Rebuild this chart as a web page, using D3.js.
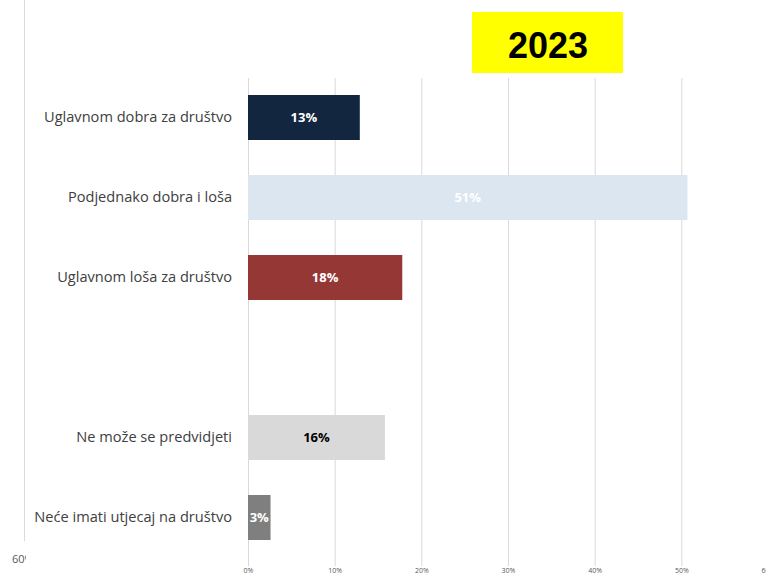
<!DOCTYPE html>
<html>
<head>
<meta charset="utf-8">
<script src="https://cdn.jsdelivr.net/npm/d3@7"></script>
<style>
  body { margin: 0; background: #fff; }
  svg { display: block; }
  .grid line { stroke: #d9d9d9; }
  .grid .domain { display: none; }
  .grid text { fill: #595959; font-family: 'Open Sans', sans-serif; font-size: 7px; }
  .cats .domain { display: none; }
  .cats text { fill: #404040; font-family: 'Open Sans', sans-serif; font-size: 14.6px; }
</style>
</head>
<body>
<div id="chart"></div>
<script>
// answers, top to bottom ('' is the empty gap row)
const categories = ['Uglavnom dobra za društvo', 'Podjednako dobra i loša', 'Uglavnom loša za društvo', '', 'Ne može se predvidjeti', 'Neće imati utjecaj na društvo']
const values = [0.129, 0.507, 0.178, null, 0.158, 0.026]
const labels = ['13%', '51%', '18%', '', '16%', '3%']
const barColors = ['#12263f', '#dce6f1', '#953735', 'none', '#d9d9d9', '#7f7f7f']
const labelColors = ['#ffffff', '#ffffff', '#ffffff', 'none', '#000000', '#ffffff']
const ticks = [0, 0.1, 0.2, 0.3, 0.4, 0.5, 0.6]
const title = '2023'

const W = 766
const H = 574

const svg = d3.select('#chart').append('svg')
  .attr('width', W)
  .attr('height', H)

const x = d3.scaleLinear()
  .domain([0, 0.6])
  .range([248, 768])

const y = d3.scaleBand()
  .domain(categories.map((d, i) => i))
  .range([77.5, 557.5])
  .paddingInner(0.4375)
  .paddingOuter(0.21875)

// leftover axis line from a neighbouring chart
svg.append('line')
  .attr('x1', 24.5).attr('x2', 24.5)
  .attr('y1', 0).attr('y2', 541)
  .attr('stroke', '#d9d9d9')

svg.append('clipPath').attr('id', 'cut')
  .append('rect').attr('x', 0).attr('y', 540).attr('width', 26).attr('height', 34)

svg.append('text')
  .attr('clip-path', 'url(#cut)')
  .attr('x', 12)
  .attr('y', 563)
  .attr('fill', '#595959')
  .style('font-family', "'Open Sans', sans-serif")
  .style('font-size', '11px')
  .text(d3.format('.0%')(ticks[ticks.length - 1]))

// gridlines + tick labels
svg.append('g')
  .attr('class', 'grid')
  .attr('transform', 'translate(0,566)')
  .call(d3.axisBottom(x)
    .tickValues(ticks)
    .tickFormat(d3.format('.0%'))
    .tickSize(-488)
    .tickPadding(2))

// category labels
svg.append('g')
  .attr('class', 'cats')
  .attr('transform', 'translate(248,0)')
  .call(d3.axisLeft(y)
    .tickFormat(i => categories[i])
    .tickSize(0)
    .tickPadding(16))

const rows = categories.map((c, i) => ({ i, v: values[i] })).filter(d => d.v != null)

svg.selectAll('.bar')
  .data(rows)
  .enter().append('rect')
  .attr('class', 'bar')
  .attr('x', x(0))
  .attr('y', d => y(d.i))
  .attr('width', d => x(d.v) - x(0))
  .attr('height', y.bandwidth())
  .attr('fill', d => barColors[d.i])

svg.selectAll('.val')
  .data(rows)
  .enter().append('text')
  .attr('class', 'val')
  .attr('x', d => Math.max((x(0) + x(d.v)) / 2, x(0) + 10))
  .attr('y', d => y(d.i) + y.bandwidth() / 2)
  .attr('dy', '0.35em')
  .attr('text-anchor', 'middle')
  .attr('fill', d => labelColors[d.i])
  .style('font-family', "'Open Sans', sans-serif")
  .style('font-weight', 'bold')
  .style('font-size', '13px')
  .text(d => labels[d.i])

// yellow year badge
svg.append('rect')
  .attr('x', 472).attr('y', 12)
  .attr('width', 151).attr('height', 61)
  .attr('fill', '#ffff00')

svg.append('text')
  .attr('x', 548)
  .attr('y', 58)
  .attr('text-anchor', 'middle')
  .style('font-family', 'Liberation Sans, Arial, sans-serif')
  .style('font-weight', 'bold')
  .style('font-size', '36px')
  .attr('fill', '#000')
  .text(title)
</script>
</body>
</html>
